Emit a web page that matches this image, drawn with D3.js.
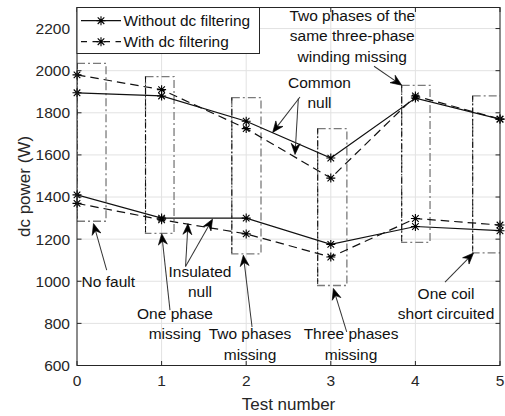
<!DOCTYPE html>
<html>
<head>
<meta charset="utf-8">
<script src="https://cdn.jsdelivr.net/npm/d3@7"></script>
<style>
  html, body { margin: 0; padding: 0; background: #fff; }
  svg { display: block; font-family: "Liberation Sans", Arial, Helvetica, sans-serif; }
</style>
</head>
<body>
<svg id="chart" width="505" height="416"></svg>
<script>
// Test numbers along the x axis
const tests = [0, 1, 2, 3, 4, 5];

// dc power (W), upper pair of curves
const upperWithout = [1895, 1880, 1760, 1585, 1870, 1770];
const upperWith    = [1980, 1910, 1725, 1490, 1880, 1770];

// dc power (W), lower pair of curves
const lowerWithout = [1410, 1300, 1300, 1175, 1260, 1240];
const lowerWith    = [1370, 1292, 1225, 1115, 1298, 1267];

// Axis ticks
const xTicks = [0, 1, 2, 3, 4, 5];
const yTicks = [600, 800, 1000, 1200, 1400, 1600, 1800, 2000, 2200];

// Legend entries
const legendLabels = ["Without dc filtering", "With dc filtering"];

// Dash-dot regions around each test (x range in test units, power range in W)
const regionX0 = [0.0, 0.81, 1.83, 2.845, 3.838, 4.677];
const regionX1 = [0.343, 1.147, 2.175, 3.19, 4.173, 5.02];
const regionLo = [1285, 1227, 1130, 980, 1185, 1135];
const regionHi = [2035, 1972, 1872, 1725, 1930, 1880];

// Annotation texts, anchored in data units (first baseline)
const noteLines = [
  ["Two phases of the", "same three-phase", "winding missing"],
  ["Common", "null"],
  ["Insulated", "null"],
  ["No fault"],
  ["One phase", "missing"],
  ["Two phases", "missing"],
  ["Three phases", "missing"],
  ["One coil", "short circuited"]
];
const noteX = [3.254, 2.866, 1.454, 0.37, 1.158, 2.045, 3.239, 4.362];
const noteY = [2236, 1920, 1021, 971, 821, 724, 724, 916];

// Annotation arrows: tail -> tip, in data units
const arrowTail = [[3.511, 2021], [2.636, 1875], [2.616, 1868], [0.351, 1053], [1.283, 1070],
                   [1.283, 1070], [1.099, 863], [2.069, 783], [3.188, 760], [4.35, 996]];
const arrowTip  = [[3.838, 1931], [2.313, 1707], [2.577, 1602], [0.195, 1274], [1.312, 1274],
                   [1.602, 1295], [1.001, 1226], [1.966, 1124], [3.030, 966], [4.687, 1134]];

const svg = d3.select("#chart");
const plotLeft = 77, plotRight = 500, plotTop = 7.5, plotBottom = 365.5;

const x = d3.scaleLinear().domain([0, 5]).range([plotLeft, plotRight]);
const y = d3.scaleLinear().domain([600, 2300]).range([plotBottom, plotTop]);

const axisColor = "#262626";

// Grid
const grid = svg.append("g");
grid.selectAll("line.gy").data(yTicks).join("line")
  .attr("x1", plotLeft).attr("x2", plotRight)
  .attr("y1", d => y(d)).attr("y2", d => y(d))
  .attr("stroke", "#e2e2e2").attr("stroke-width", 1);
grid.selectAll("line.gx").data(xTicks).join("line")
  .attr("y1", plotTop).attr("y2", plotBottom)
  .attr("x1", d => x(d)).attr("x2", d => x(d))
  .attr("stroke", "#e2e2e2").attr("stroke-width", 1);

// Clip to plot area
svg.append("clipPath").attr("id", "plotClip")
  .append("rect").attr("x", plotLeft).attr("y", plotTop)
  .attr("width", plotRight - plotLeft).attr("height", plotBottom - plotTop);

const plot = svg.append("g").attr("clip-path", "url(#plotClip)");

// Dash-dot regions
const regions = d3.range(regionX0.length);
plot.selectAll("rect.region").data(regions).join("rect")
  .attr("x", i => x(regionX0[i]))
  .attr("y", i => y(regionHi[i]))
  .attr("width", i => x(regionX1[i]) - x(regionX0[i]))
  .attr("height", i => y(regionLo[i]) - y(regionHi[i]))
  .attr("fill", "none")
  .attr("stroke", "#7a7a7a").attr("stroke-width", 1.3)
  .attr("stroke-dasharray", "8,3,2,3");
plot.selectAll("line.regionLeft").data(regions).join("line")
  .attr("x1", i => x(regionX0[i])).attr("x2", i => x(regionX0[i]))
  .attr("y1", i => y(regionHi[i])).attr("y2", i => y(regionLo[i]))
  .attr("stroke", "#000").attr("stroke-width", 0.9)
  .attr("stroke-dasharray", "6,2,1.5,2");

// Series lines
const line = d3.line().x((d, i) => x(tests[i])).y(d => y(d));
const series = [
  { values: upperWithout, dash: null },
  { values: upperWith, dash: "8.5,5" },
  { values: lowerWithout, dash: null },
  { values: lowerWith, dash: "8.5,5" }
];
plot.selectAll("path.series").data(series).join("path")
  .attr("d", d => line(d.values))
  .attr("fill", "none").attr("stroke", "#111").attr("stroke-width", 1.2)
  .attr("stroke-dasharray", d => d.dash);

// Asterisk markers
const star = "M-4.5,0L4.5,0M0,-4.5L0,4.5M-3.3,-3.3L3.3,3.3M-3.3,3.3L3.3,-3.3";
series.forEach(s => {
  svg.append("g").selectAll("path").data(s.values).join("path")
    .attr("d", star)
    .attr("transform", (d, i) => `translate(${x(tests[i])},${y(d)})`)
    .attr("fill", "none").attr("stroke", "#000").attr("stroke-width", 1.1);
});

// Annotations
const notes = svg.append("g").attr("font-size", "15.5px").attr("fill", "#111");
noteLines.forEach((lines, k) => {
  const t = notes.append("text")
    .attr("x", x(noteX[k])).attr("y", y(noteY[k]))
    .attr("text-anchor", "middle");
  lines.forEach((s, j) => {
    t.append("tspan").attr("x", x(noteX[k])).attr("dy", j === 0 ? 0 : "1.32em").text(s);
  });
});

// Arrows
const arrows = svg.append("g");
arrowTail.forEach((tail, k) => {
  const x0 = x(tail[0]), y0 = y(tail[1]);
  const x1 = x(arrowTip[k][0]), y1 = y(arrowTip[k][1]);
  const ang = Math.atan2(y1 - y0, x1 - x0) * 180 / Math.PI;
  const len = Math.hypot(x1 - x0, y1 - y0);
  const g = arrows.append("g").attr("transform", `translate(${x0},${y0}) rotate(${ang})`);
  g.append("line").attr("x1", 0).attr("y1", 0).attr("x2", len - 6).attr("y2", 0)
    .attr("stroke", "#333").attr("stroke-width", 1);
  g.append("path")
    .attr("d", `M${len},0L${len - 11},-4.5L${len - 7.5},0L${len - 11},4.5Z`)
    .attr("fill", "#000").attr("stroke", "#000").attr("stroke-width", 0.6);
});

// Axes box
svg.append("rect").attr("x", plotLeft).attr("y", plotTop)
  .attr("width", plotRight - plotLeft).attr("height", plotBottom - plotTop)
  .attr("fill", "none").attr("stroke", axisColor).attr("stroke-width", 1);

// Inward ticks on all four sides
const tl = 4.5;
const ticks = svg.append("g").attr("stroke", axisColor).attr("stroke-width", 1);
yTicks.forEach(v => {
  ticks.append("line").attr("x1", plotLeft).attr("x2", plotLeft + tl).attr("y1", y(v)).attr("y2", y(v));
  ticks.append("line").attr("x1", plotRight).attr("x2", plotRight - tl).attr("y1", y(v)).attr("y2", y(v));
});
xTicks.forEach(v => {
  ticks.append("line").attr("y1", plotBottom).attr("y2", plotBottom - tl).attr("x1", x(v)).attr("x2", x(v));
  ticks.append("line").attr("y1", plotTop).attr("y2", plotTop + tl).attr("x1", x(v)).attr("x2", x(v));
});

// Tick labels
svg.append("g").attr("font-size", "15.5px").attr("fill", axisColor)
  .selectAll("text").data(yTicks).join("text")
  .attr("x", plotLeft - 7).attr("y", d => y(d)).attr("dy", "0.35em")
  .attr("text-anchor", "end").text(d => d);
svg.append("g").attr("font-size", "15.5px").attr("fill", axisColor)
  .selectAll("text").data(xTicks).join("text")
  .attr("x", d => x(d)).attr("y", plotBottom + 20.5)
  .attr("text-anchor", "middle").text(d => d);

// Axis titles
svg.append("text").attr("x", (plotLeft + plotRight) / 2).attr("y", 410)
  .attr("text-anchor", "middle").attr("font-size", "17px").attr("fill", axisColor)
  .text("Test number");
svg.append("text")
  .attr("transform", `translate(30,${(plotTop + plotBottom) / 2}) rotate(-90)`)
  .attr("text-anchor", "middle").attr("font-size", "17px").attr("fill", axisColor)
  .text("dc power (W)");

// Legend
const lg = svg.append("g");
lg.append("rect").attr("x", plotLeft).attr("y", plotTop).attr("width", 182.5).attr("height", 46)
  .attr("fill", "#fff").attr("stroke", axisColor).attr("stroke-width", 1);
const legendDash = [null, "6,5.5"];
legendLabels.forEach((label, i) => {
  const ly = 20.7 + i * 21;
  lg.append("line").attr("x1", 81).attr("x2", 121).attr("y1", ly).attr("y2", ly)
    .attr("stroke", "#111").attr("stroke-width", 1.2).attr("stroke-dasharray", legendDash[i]);
  lg.append("path").attr("d", star).attr("transform", `translate(101,${ly})`)
    .attr("fill", "none").attr("stroke", "#000").attr("stroke-width", 1.1);
  lg.append("text").attr("x", 123.5).attr("y", ly).attr("dy", "0.36em")
    .attr("font-size", "15.4px").attr("fill", "#111").text(label);
});
</script>
</body>
</html>
